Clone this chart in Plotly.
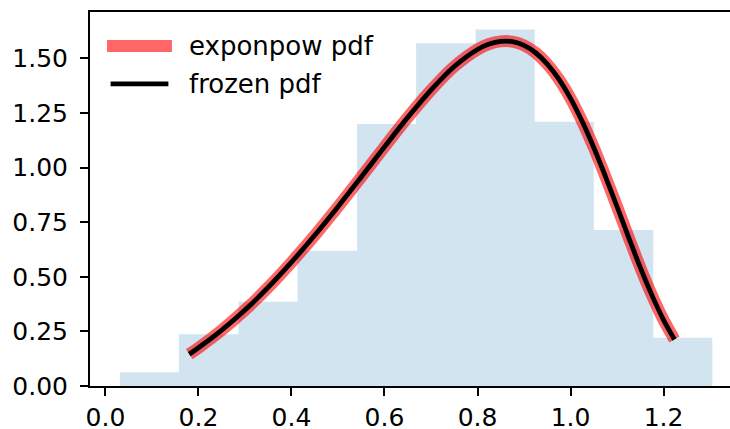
import plotly.graph_objects as go

# histogram of the sample (density), 10 bins
bin_edges = [0.031, 0.158, 0.286, 0.413, 0.541, 0.668, 0.796, 0.923, 1.050, 1.178, 1.305]
bin_heights = [0.063, 0.237, 0.386, 0.619, 1.200, 1.570, 1.632, 1.210, 0.714, 0.221]

# pdf curve
pdf_x = [0.18, 0.2, 0.25, 0.3, 0.35, 0.4, 0.45, 0.5, 0.55, 0.6, 0.65, 0.7, 0.75, 0.8,
         0.825, 0.85, 0.875, 0.9, 0.925, 0.95, 0.975, 1.0, 1.025, 1.05, 1.075, 1.1,
         1.125, 1.15, 1.175, 1.2, 1.2235]
pdf_y = [0.146, 0.175, 0.256, 0.348, 0.452, 0.567, 0.690, 0.821, 0.957, 1.095, 1.230,
         1.355, 1.463, 1.541, 1.566, 1.578, 1.577, 1.560, 1.526, 1.474, 1.405, 1.317,
         1.212, 1.092, 0.960, 0.822, 0.681, 0.543, 0.416, 0.303, 0.213]

legend_labels = ["exponpow pdf", "frozen pdf"]
x_ticks = [0.0, 0.2, 0.4, 0.6, 0.8, 1.0, 1.2]
y_ticks = [0.0, 0.25, 0.5, 0.75, 1.0, 1.25, 1.5]

FONT = "DejaVu Sans"
FS = 26
TICK_FS = 25

fig = go.Figure()

# stepfilled histogram
fig.add_trace(go.Scatter(
    x=bin_edges, y=bin_heights + [bin_heights[-1]],
    mode="lines", line_shape="hv", line=dict(width=0),
    fill="tozeroy", fillcolor="rgba(31,119,180,0.2)", hoverinfo="skip"))

fig.add_trace(go.Scatter(x=pdf_x, y=pdf_y, mode="lines", line_shape="spline",
                         line=dict(color="rgba(255,0,0,0.6)", width=12)))
fig.add_trace(go.Scatter(x=pdf_x, y=pdf_y, mode="lines", line_shape="spline",
                         line=dict(color="black", width=4.8)))

# legend drawn by hand to get matplotlib-like handle lengths
fig.add_shape(type="line", xref="paper", yref="paper", x0=0.0266, x1=0.128, y0=0.909, y1=0.909,
              line=dict(color="rgba(255,0,0,0.6)", width=12))
fig.add_shape(type="line", xref="paper", yref="paper", x0=0.0322, x1=0.1225, y0=0.808, y1=0.808,
              line=dict(color="black", width=4.8))
for lab, yy in zip(legend_labels, [0.909, 0.808]):
    fig.add_annotation(text=lab, xref="paper", yref="paper", x=0.1516, y=yy,
                       xanchor="left", yanchor="middle", showarrow=False,
                       font=dict(family=FONT, size=FS, color="black"))

fig.update_layout(
    width=730, height=429,
    margin=dict(l=90, r=0, t=11.5, b=43.3),
    plot_bgcolor="white", paper_bgcolor="white",
    showlegend=False,
    font=dict(family=FONT, size=TICK_FS, color="black"),
)
fig.update_xaxes(
    range=[-0.0333, 1.343], tickvals=x_ticks, ticktext=[f"{v:.1f}" for v in x_ticks],
    showgrid=False, zeroline=False, showline=True, linecolor="black", linewidth=2,
    mirror=True, ticks="outside", ticklen=8, tickwidth=2, tickcolor="black",
    ticklabelstandoff=0, automargin=False,
)
fig.update_yaxes(
    range=[0, 1.7126], tickvals=y_ticks, ticktext=[f"{v:.2f}" for v in y_ticks],
    showgrid=False, zeroline=False, showline=True, linecolor="black", linewidth=2,
    ticks="outside", ticklen=8, tickwidth=2, tickcolor="black",
    ticklabelstandoff=7, automargin=False,
)

fig.write_html("out.html", config={"displayModeBar": False},
               post_script="document.body.style.margin='0';")
